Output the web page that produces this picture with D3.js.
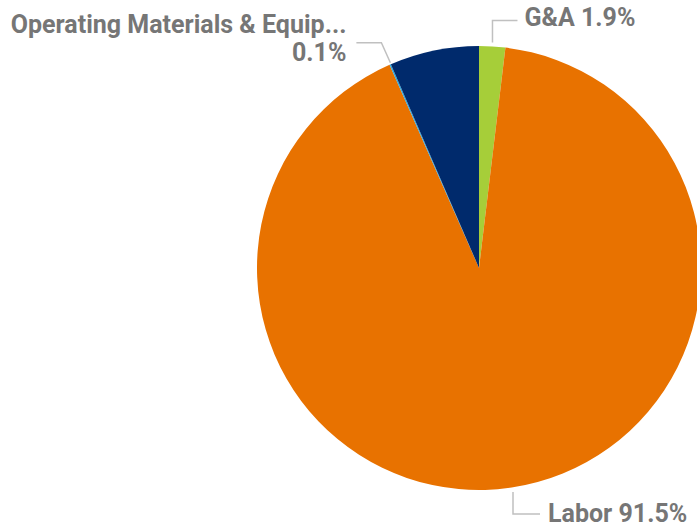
<!DOCTYPE html>
<html>
<head>
<meta charset="UTF-8">
<script src="https://d3js.org/d3.v7.min.js"></script>
<style>
  body { margin: 0; background: #fff; }
  .lbl { font-family: Roboto, "DejaVu Sans", sans-serif; font-weight: bold; fill: #767676; font-size: 25px; }
  .leader { fill: none; stroke: #c0c0c0; stroke-width: 1.5px; }
</style>
</head>
<body>
<svg id="chart" width="697" height="527"></svg>
<script>
const categories = ["G&A", "Labor", "Operating Materials & Equip...", "Other"];
const shares = [1.9, 91.5, 0.1, 6.5];
const colors = ["#a6ce39", "#e87200", "#29a8e0", "#002a6c"];

const width = 697, height = 527;
const cx = 479, cy = 268, radius = 222;

const svg = d3.select("#chart");
const g = svg.append("g").attr("transform", `translate(${cx},${cy})`);

const pie = d3.pie().sort(null).value(d => d.v);
const arcs = pie(categories.map((c, i) => ({ c, v: shares[i], col: colors[i] })));
const arc = d3.arc().innerRadius(0).outerRadius(radius);

g.selectAll("path.slice")
  .data(arcs)
  .enter().append("path")
  .attr("class", "slice")
  .attr("d", arc)
  .attr("fill", d => d.data.col);

// point on the rim at the middle of a slice
function rim(d, r) {
  const a = (d.startAngle + d.endAngle) / 2;
  return [r * Math.sin(a), -r * Math.cos(a)];
}

const fmt = v => v.toFixed(1) + "%";

// G&A
{
  const d = arcs[0];
  const p = rim(d, radius + 4);
  g.append("path").attr("class", "leader")
    .attr("d", d3.line()([[p[0], p[1]], [p[0], p[1] - 22], [p[0] + 25, p[1] - 22]]));
  g.append("text").attr("class", "lbl")
    .attr("x", p[0] + 32).attr("y", p[1] - 16)
    .text(`${d.data.c} ${fmt(d.data.v)}`);
}

// Labor
{
  const d = arcs[1];
  const p = [34, radius + 2];
  g.append("path").attr("class", "leader")
    .attr("d", d3.line()([[p[0], p[1]], [p[0], p[1] + 22], [p[0] + 27, p[1] + 22]]));
  g.append("text").attr("class", "lbl")
    .attr("x", p[0] + 35).attr("y", p[1] + 30)
    .text(`${d.data.c} ${fmt(d.data.v)}`);
}

// Operating Materials
{
  const d = arcs[2];
  const p = rim(d, radius + 2);
  g.append("path").attr("class", "leader")
    .attr("d", d3.line()([[p[0] + 1, p[1]], [p[0] - 8, p[1] - 20], [p[0] - 33, p[1] - 20]]));
  const t = g.append("text").attr("class", "lbl").attr("text-anchor", "end");
  t.append("tspan").attr("x", p[0] - 43).attr("y", p[1] - 30).text(d.data.c);
  t.append("tspan").attr("x", p[0] - 43).attr("y", p[1] - 2).text(fmt(d.data.v));
}
</script>
</body>
</html>
